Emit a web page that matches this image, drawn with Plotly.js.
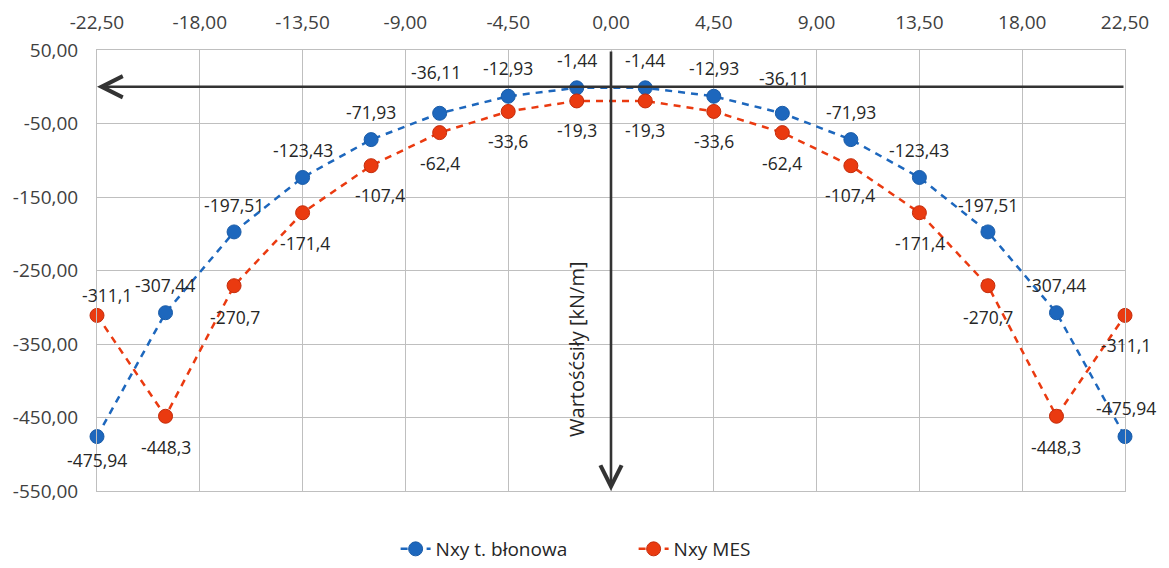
<!DOCTYPE html>
<html>
<head>
<meta charset="utf-8">
<script src="https://cdn.plot.ly/plotly-3.0.1.min.js"></script>
<style>html,body{margin:0;padding:0;background:#fff;}#chart{width:1169px;height:568px;}</style>
</head>
<body>
<div id="chart"></div>
<script>
// ---- data ----
const xPositions = [-22.5, -19.5, -16.5, -13.5, -10.5, -7.5, -4.5, -1.5, 1.5, 4.5, 7.5, 10.5, 13.5, 16.5, 19.5, 22.5];
const nxyMembrane = [-475.94, -307.44, -197.51, -123.43, -71.93, -36.11, -12.93, -1.44, -1.44, -12.93, -36.11, -71.93, -123.43, -197.51, -307.44, -475.94];
const nxyMES = [-311.1, -448.3, -270.7, -171.4, -107.4, -62.4, -33.6, -19.3, -19.3, -33.6, -62.4, -107.4, -171.4, -270.7, -448.3, -311.1];
const membraneDecimals = 2;
const seriesNames = ["Nxy t. błonowa", "Nxy MES"];
const xTickValues = [-22.5, -18, -13.5, -9, -4.5, 0, 4.5, 9, 13.5, 18, 22.5];
const yTickValues = [50, -50, -150, -250, -350, -450, -550];
const yAxisTitle = "Wartośćsiły [kN/m]";

// ---- label offsets (pixels) ----
const blueOff = [[0,23],[-1,-28],[0,-27],[0,-27],[0,-28],[-4,-41],[0,-28],[0,-28],[0,-28],[0,-28],[2,-35],[0,-28],[0,-27],[0,-27],[0,-28],[1,-29]];
const redOff = [[10,-20],[0,31],[1,31],[2,30],[9,29],[0,30],[0,30],[0,29],[0,29],[0,30],[0,30],[-1,29],[1,30],[0,31],[0,31],[1,30]];

const fmt = (v, d) => v.toFixed(d).replace('.', ',');
const fmtAuto = v => String(v).replace('.', ',');

const BLUE = '#1d67bd';
const RED = '#ea3a10';
const FONT = 'Open Sans, Liberation Sans, sans-serif';
const LABEL_SIZE = 17.5;

const traces = [
  {
    x: xPositions, y: nxyMembrane, name: seriesNames[0], type: 'scatter', mode: 'lines+markers',
    line: {color: BLUE, width: 2.5, dash: '7px,6px'},
    marker: {color: BLUE, size: 14, line: {color: '#1a5ca8', width: 1}},
    cliponaxis: false
  },
  {
    x: xPositions, y: nxyMES, name: seriesNames[1], type: 'scatter', mode: 'lines+markers',
    line: {color: RED, width: 2.5, dash: '7px,6px'},
    marker: {color: RED, size: 14, line: {color: '#c42c0b', width: 1}},
    cliponaxis: false
  }
];

const annotations = [];
xPositions.forEach((x, i) => {
  annotations.push({x: x, y: nxyMembrane[i], xref: 'x', yref: 'y', text: fmt(nxyMembrane[i], membraneDecimals),
    showarrow: false, xshift: blueOff[i][0], yshift: -blueOff[i][1], font: {family: FONT, size: LABEL_SIZE, color: '#262626'}});
  annotations.push({x: x, y: nxyMES[i], xref: 'x', yref: 'y', text: fmtAuto(nxyMES[i]),
    showarrow: false, xshift: redOff[i][0], yshift: -redOff[i][1], font: {family: FONT, size: LABEL_SIZE, color: '#262626'}});
});
// horizontal arrow (y = 0), pointing left
annotations.push({x: xTickValues[0], y: 0, xref: 'x', yref: 'y', ax: xTickValues[xTickValues.length-1], ay: 0,
  axref: 'x', ayref: 'y', showarrow: true, arrowhead: 5, arrowsize: 1.6, arrowwidth: 2.6, arrowcolor: '#333333', text: ''});
// vertical arrow (x = 0), pointing down
annotations.push({x: 0, y: yTickValues[yTickValues.length-1], xref: 'x', yref: 'y', ax: 0, ay: yTickValues[0],
  axref: 'x', ayref: 'y', showarrow: true, arrowhead: 5, arrowsize: 1.6, arrowwidth: 2.6, arrowcolor: '#333333', text: ''});
// axis title along the vertical arrow
annotations.push({x: 0, y: -358, xref: 'x', yref: 'y', text: yAxisTitle, textangle: -90, showarrow: false,
  xshift: -34, font: {family: FONT, size: 20, color: '#262626'}});

// plot area: top 50px, bottom at 491px; legend lives inside the paper area below it
const H = 568, T = 50, B = 0, PLOT_BOTTOM = 491;
const paperH = H - T - B;
const domainLow = (H - B - PLOT_BOTTOM) / paperH;

const layout = {
  width: 1169, height: H,
  margin: {l: 97, r: 44, t: T, b: B},
  paper_bgcolor: '#ffffff', plot_bgcolor: '#ffffff',
  showlegend: true,
  legend: {orientation: 'h', x: 0.522, xanchor: 'center', y: 0.0, yanchor: 'bottom',
    font: {family: FONT, size: 19, color: '#262626'}, entrywidth: 193, entrywidthmode: 'pixels'},
  xaxis: {
    side: 'top', range: [xTickValues[0], xTickValues[xTickValues.length-1]],
    tickmode: 'array', tickvals: xTickValues, ticktext: xTickValues.map(v => fmt(v, 2)),
    showgrid: true, gridcolor: '#bfbfbf', gridwidth: 1, zeroline: false,
    showline: true, mirror: true, linecolor: '#bfbfbf', linewidth: 1,
    ticks: '', ticklabelstandoff: 12,
    tickfont: {family: FONT, size: 19, color: '#404040'}
  },
  yaxis: {
    domain: [domainLow, 1],
    range: [yTickValues[yTickValues.length-1], yTickValues[0]],
    tickmode: 'array', tickvals: yTickValues, ticktext: yTickValues.map(v => fmt(v, 2)),
    showgrid: true, gridcolor: '#bfbfbf', gridwidth: 1, zeroline: false,
    showline: true, mirror: true, linecolor: '#bfbfbf', linewidth: 1,
    ticks: '', ticklabelstandoff: 14,
    tickfont: {family: FONT, size: 19, color: '#404040'}
  },
  annotations: annotations
};

Plotly.newPlot('chart', traces, layout, {displayModeBar: false, staticPlot: true});
</script>
</body>
</html>
